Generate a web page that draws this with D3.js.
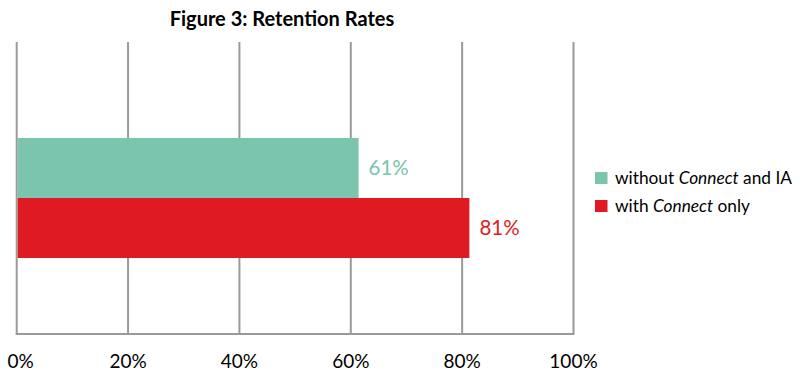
<!DOCTYPE html>
<html>
<head>
<meta charset="utf-8">
<script src="https://cdn.jsdelivr.net/npm/d3@7"></script>
<style>
  body { margin: 0; background: #fff; }
  svg { display: block; font-family: Lato, "Open Sans", sans-serif; }
</style>
</head>
<body>
<div id="chart"></div>
<script>
// data
const categories = ['without Connect and IA', 'with Connect only'];
const retention = [61.4, 81.3];
const valueLabels = ['61%', '81%'];
const tickValues = [0, 20, 40, 60, 80, 100];
const tickLabels = ['0%', '20%', '40%', '60%', '80%', '100%'];

const colors = {
  teal: '#7bc4ad',
  red: '#e01a22',
  grid: '#9a9a9a',
  text: '#000'
};

const width = 800, height = 374;
const plot = { left: 16.7, right: 573.5, top: 42, bottom: 334 };

const svg = d3.select('#chart').append('svg')
  .attr('width', width)
  .attr('height', height);

const x = d3.scaleLinear().domain([0, 100]).range([plot.left, plot.right]);
const y = d3.scaleBand().domain(categories).range([138, 258]).padding(0);
const barColor = d3.scaleOrdinal().domain(categories).range([colors.teal, colors.red]);

// title
svg.append('text')
  .attr('x', 282)
  .attr('y', 26)
  .attr('text-anchor', 'middle')
  .attr('font-weight', 'bold')
  .attr('font-size', 20)
  .attr('fill', colors.text)
  .text('Figure 3: Retention Rates');

// grid lines
svg.append('g')
  .selectAll('line')
  .data(tickValues)
  .join('line')
  .attr('x1', d => x(d))
  .attr('x2', d => x(d))
  .attr('y1', plot.top)
  .attr('y2', plot.bottom)
  .attr('stroke', colors.grid)
  .attr('stroke-width', 2);

// bottom axis line + labels
svg.append('line')
  .attr('x1', x(0) - 1)
  .attr('x2', x(100) + 1)
  .attr('y1', plot.bottom)
  .attr('y2', plot.bottom)
  .attr('stroke', colors.grid)
  .attr('stroke-width', 2);

svg.append('g')
  .selectAll('text')
  .data(tickValues)
  .join('text')
  .attr('x', (d, i) => x(d) + (i === 0 ? 4 : 0))
  .attr('y', 368)
  .attr('text-anchor', 'middle')
  .attr('font-size', 19)
  .attr('fill', colors.text)
  .text((d, i) => tickLabels[i]);

// bars
svg.append('g')
  .selectAll('rect')
  .data(categories)
  .join('rect')
  .attr('x', x(0) + 1)
  .attr('y', d => y(d))
  .attr('width', (d, i) => x(retention[i]) - x(0) - 1)
  .attr('height', y.bandwidth())
  .attr('fill', d => barColor(d));

// value labels
svg.append('g')
  .selectAll('text')
  .data(categories)
  .join('text')
  .attr('x', (d, i) => x(retention[i]) + 10)
  .attr('y', d => y(d) + y.bandwidth() / 2 + 7)
  .attr('font-size', 20.5)
  .attr('fill', d => barColor(d))
  .text((d, i) => valueLabels[i]);

// legend
const legend = svg.append('g').attr('transform', 'translate(595,172)');
const item = legend.selectAll('g')
  .data(categories)
  .join('g')
  .attr('transform', (d, i) => `translate(0,${i * 28})`);

item.append('rect')
  .attr('width', 12.5)
  .attr('height', 12)
  .attr('fill', d => barColor(d));

const lt = item.append('text')
  .attr('x', 20)
  .attr('y', 11.5)
  .attr('font-size', 17.3)
  .attr('fill', colors.text);

lt.each(function (d) {
  const t = d3.select(this);
  const parts = d.split('Connect');
  t.append('tspan').text(parts[0]);
  t.append('tspan').attr('font-style', 'italic').text('Connect');
  t.append('tspan').text(parts[1]);
});
</script>
</body>
</html>
